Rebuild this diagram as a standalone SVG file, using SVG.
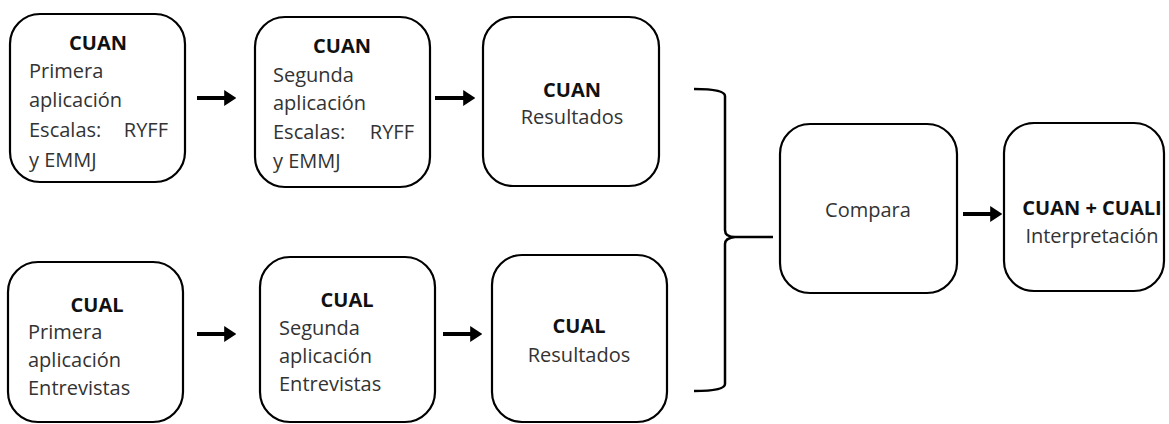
<svg xmlns="http://www.w3.org/2000/svg" width="1169" height="424" viewBox="0 0 1169 424">
<style>
.box{fill:#fff;stroke:#000;stroke-width:2.2}
text{font-family:"Open Sans","Liberation Sans",sans-serif;font-size:20px;fill:#333}
.b{font-weight:bold;fill:#111}
.c{text-anchor:middle}
.conn{fill:none;stroke:#000;stroke-width:4}
.br{fill:none;stroke:#000;stroke-width:2.5}
</style>
<defs>
<marker id="ah" markerWidth="3" markerHeight="4" refX="0.2" refY="2" orient="auto" markerUnits="strokeWidth">
<path d="M0,0 L3,2 L0,4 Z" fill="#000"/>
</marker>
</defs>
<rect width="1169" height="424" fill="#fff"/>
<g id="n1">
<rect class="box" x="10" y="14" width="175" height="168" rx="30"/>
<text class="b c" x="98" y="50">CUAN</text>
<text x="29" y="78">Primera</text>
<text x="29" y="107">aplicación</text>
<text x="29" y="137">Escalas:</text>
<text x="168" y="137" text-anchor="end">RYFF</text>
<text x="29" y="167">y EMMJ</text>
</g>
<g id="n2">
<rect class="box" x="255" y="17" width="175" height="170" rx="30"/>
<text class="b c" x="342" y="53">CUAN</text>
<text x="273" y="82">Segunda</text>
<text x="273" y="110">aplicación</text>
<text x="273" y="139">Escalas:</text>
<text x="414" y="139" text-anchor="end">RYFF</text>
<text x="273" y="168">y EMMJ</text>
</g>
<g id="n3">
<rect class="box" x="483" y="17" width="176" height="169" rx="30"/>
<text class="b c" x="572" y="97">CUAN</text>
<text class="c" x="572" y="124">Resultados</text>
</g>
<g id="n4">
<rect class="box" x="8" y="262" width="175" height="160" rx="30"/>
<text class="b c" x="97" y="312">CUAL</text>
<text x="28" y="339">Primera</text>
<text x="28" y="367">aplicación</text>
<text x="28" y="395">Entrevistas</text>
</g>
<g id="n5">
<rect class="box" x="260" y="257" width="175" height="165" rx="30"/>
<text class="b c" x="347" y="307">CUAL</text>
<text x="279" y="335">Segunda</text>
<text x="279" y="363">aplicación</text>
<text x="279" y="391">Entrevistas</text>
</g>
<g id="n6">
<rect class="box" x="492" y="255" width="175" height="167" rx="30"/>
<text class="b c" x="579" y="333">CUAL</text>
<text class="c" x="579" y="362">Resultados</text>
</g>
<g id="n7">
<rect class="box" x="780" y="124" width="177" height="169" rx="30"/>
<text class="c" x="868" y="217">Compara</text>
</g>
<g id="n8">
<rect class="box" x="1004" y="123" width="160" height="168" rx="30"/>
<text class="b c" x="1092" y="215">CUAN + CUALI</text>
<text class="c" x="1092" y="243">Interpretación</text>
</g>
<g id="connectors">
<line class="conn" x1="197" y1="98" x2="225" y2="98" marker-end="url(#ah)"/>
<line class="conn" x1="435" y1="98" x2="464" y2="98" marker-end="url(#ah)"/>
<line class="conn" x1="197" y1="334" x2="225" y2="334" marker-end="url(#ah)"/>
<line class="conn" x1="443" y1="334" x2="471" y2="334" marker-end="url(#ah)"/>
<line class="conn" x1="963" y1="214" x2="991" y2="214" marker-end="url(#ah)"/>
<path class="br" d="M694,89 Q725,89 725,96 L725,230 Q725,237 735,237 Q725,238 725,244 L725,384 Q725,391 694,391"/>
<line class="br" x1="735" y1="237" x2="773" y2="237"/>
</g>
</svg>
